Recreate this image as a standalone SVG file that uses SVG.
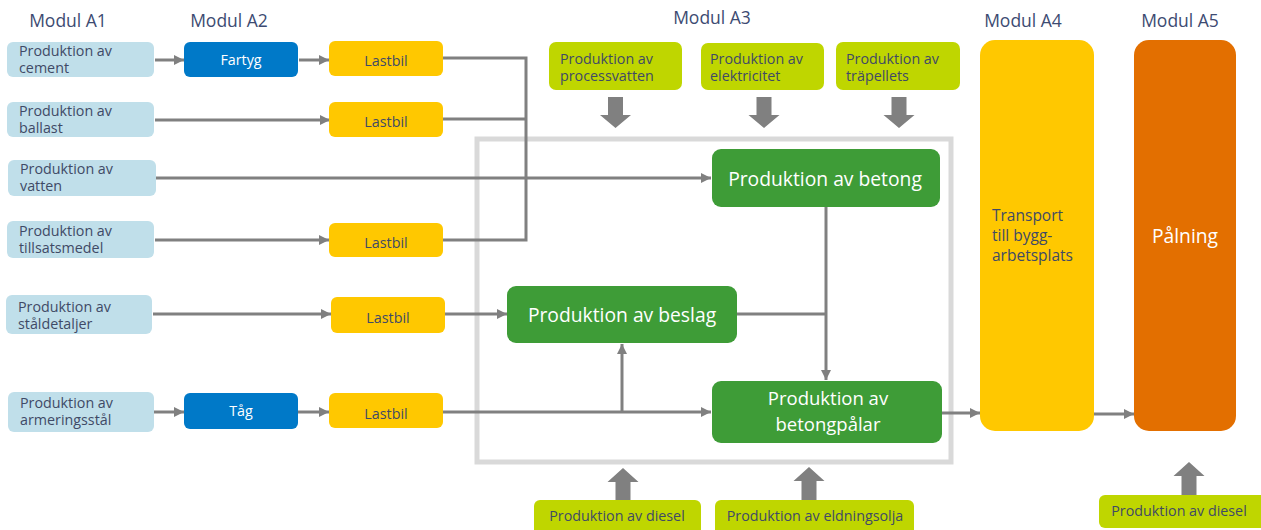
<svg xmlns="http://www.w3.org/2000/svg" width="1261" height="530" viewBox="0 0 1261 530">
<style>
text{font-family:"Open Sans","Noto Sans","Liberation Sans",sans-serif;}
.mod{font-size:17.5px;fill:#3d4b72;text-anchor:middle;}
.a1{fill:#c0dfea;}
.blue{fill:#0079c8;}
.yel{fill:#ffc800;}
.lime{fill:#bfd600;}
.grn{fill:#3e9c37;}
.org{fill:#e36f00;}
.t{font-size:14.3px;fill:#3f4a66;}
.tc{font-size:14.3px;fill:#3f4a66;text-anchor:middle;}
.tw{font-size:14.3px;fill:#ffffff;text-anchor:middle;}
.big{font-size:19.3px;fill:#ffffff;text-anchor:middle;}
.con{fill:none;stroke:#808080;stroke-width:3;}
.fat{fill:#808080;}
.frame{fill:none;stroke:#d9d9d9;stroke-width:5;}
</style>
<defs>
<marker id="ah" viewBox="0 0 10 10" refX="10" refY="5" markerWidth="10" markerHeight="10" markerUnits="userSpaceOnUse" orient="auto">
<path d="M0,0 L10,5 L0,10 z" fill="#808080"/>
</marker>
</defs>
<rect width="1261" height="530" fill="#ffffff"/>

<g id="headers">
<text class="mod" x="68" y="27">Modul A1</text>
<text class="mod" x="229" y="27">Modul A2</text>
<text class="mod" x="712" y="24">Modul A3</text>
<text class="mod" x="1023" y="27">Modul A4</text>
<text class="mod" x="1180" y="27">Modul A5</text>
</g>

<rect class="frame" x="477" y="139" width="474" height="323"/>

<g id="connectors">
<path class="con" d="M155,60 H184" marker-end="url(#ah)"/>
<path class="con" d="M299,60 H329" marker-end="url(#ah)"/>
<path class="con" d="M155,120 H330" marker-end="url(#ah)"/>
<path class="con" d="M156,178 H711" marker-end="url(#ah)"/>
<path class="con" d="M155,240 H329" marker-end="url(#ah)"/>
<path class="con" d="M443,58 H526 V240 H443"/>
<path class="con" d="M443,119 H526"/>
<path class="con" d="M153,314 H331" marker-end="url(#ah)"/>
<path class="con" d="M445,314 H507" marker-end="url(#ah)"/>
<path class="con" d="M154,412 H184" marker-end="url(#ah)"/>
<path class="con" d="M298,412 H329" marker-end="url(#ah)"/>
<path class="con" d="M443,412 H711" marker-end="url(#ah)"/>
<path class="con" d="M622,412 V344" marker-end="url(#ah)"/>
<path class="con" d="M826,207 V380" marker-end="url(#ah)"/>
<path class="con" d="M736,314 H826"/>
<path class="con" d="M942,413 H980" marker-end="url(#ah)"/>
<path class="con" d="M1094,414 H1134" marker-end="url(#ah)"/>
<path class="fat" d="M608,97 H623 V115 H631 L615.5,128 L600,115 H608 z"/>
<path class="fat" d="M756.5,97 H771.5 V115 H779.5 L764,128 L748.5,115 H756.5 z"/>
<path class="fat" d="M891.5,97 H906.5 V115 H914.5 L899,128 L883.5,115 H891.5 z"/>
<path class="fat" d="M615.5,500 H630.5 V482 H638.5 L623,468 L607.5,482 H615.5 z"/>
<path class="fat" d="M801.5,500 H816.5 V481 H824.5 L809,467 L793.5,481 H801.5 z"/>
<path class="fat" d="M1181.5,495 H1196.5 V476 H1204.5 L1189,462 L1173.5,476 H1181.5 z"/>
</g>

<g id="n-cement"><rect class="a1" x="7" y="42" width="147" height="35" rx="6"/><text class="t" x="19" y="56">Produktion av</text><text class="t" x="19" y="73">cement</text></g>
<g id="n-ballast"><rect class="a1" x="7" y="102" width="147" height="35" rx="6"/><text class="t" x="19" y="116">Produktion av</text><text class="t" x="19" y="133">ballast</text></g>
<g id="n-vatten"><rect class="a1" x="8" y="160" width="148" height="36" rx="6"/><text class="t" x="20" y="174">Produktion av</text><text class="t" x="20" y="191">vatten</text></g>
<g id="n-tillsats"><rect class="a1" x="7" y="221" width="147" height="37" rx="6"/><text class="t" x="19" y="236">Produktion av</text><text class="t" x="19" y="253">tillsatsmedel</text></g>
<g id="n-stal"><rect class="a1" x="6" y="295" width="146" height="39" rx="6"/><text class="t" x="18" y="312">Produktion av</text><text class="t" x="18" y="329">ståldetaljer</text></g>
<g id="n-armering"><rect class="a1" x="8" y="392" width="146" height="40" rx="6"/><text class="t" x="20" y="408">Produktion av</text><text class="t" x="20" y="425">armeringsstål</text></g>

<g id="n-fartyg"><rect class="blue" x="184" y="42" width="114" height="35" rx="6"/><text class="tw" x="241" y="65">Fartyg</text></g>
<g id="n-tag"><rect class="blue" x="184" y="393" width="114" height="36" rx="6"/><text class="tw" x="241" y="416">Tåg</text></g>

<g id="n-lastbil1"><rect class="yel" x="329" y="41" width="114" height="35" rx="6"/><text class="tc" x="386" y="66">Lastbil</text></g>
<g id="n-lastbil2"><rect class="yel" x="329" y="102" width="114" height="35" rx="6"/><text class="tc" x="386" y="127">Lastbil</text></g>
<g id="n-lastbil4"><rect class="yel" x="329" y="223" width="114" height="34" rx="6"/><text class="tc" x="386" y="248">Lastbil</text></g>
<g id="n-lastbil5"><rect class="yel" x="331" y="297" width="114" height="36" rx="6"/><text class="tc" x="388" y="323">Lastbil</text></g>
<g id="n-lastbil6"><rect class="yel" x="329" y="393" width="114" height="35" rx="6"/><text class="tc" x="386" y="419">Lastbil</text></g>

<g id="n-processvatten"><rect class="lime" x="549" y="42" width="133" height="48" rx="7"/><text class="t" x="560" y="64">Produktion av</text><text class="t" x="560" y="81">processvatten</text></g>
<g id="n-elektricitet"><rect class="lime" x="701" y="43" width="123" height="47" rx="7"/><text class="t" x="710" y="64">Produktion av</text><text class="t" x="710" y="81">elektricitet</text></g>
<g id="n-trapellets"><rect class="lime" x="836" y="42" width="124" height="48" rx="7"/><text class="t" x="846" y="64">Produktion av</text><text class="t" x="846" y="81">träpellets</text></g>

<g id="n-betong"><rect class="grn" x="712" y="149" width="228" height="58" rx="9"/><text class="big" x="825" y="186">Produktion av betong</text></g>
<g id="n-beslag"><rect class="grn" x="507" y="286" width="230" height="57" rx="9"/><text class="big" x="622" y="322">Produktion av beslag</text></g>
<g id="n-palar"><rect class="grn" x="712" y="381" width="230" height="62" rx="9"/><text class="big" style="font-size:18.5px" x="828" y="405">Produktion av</text><text class="big" style="font-size:18.5px" x="828" y="431">betongpålar</text></g>

<g id="n-diesel1"><rect class="lime" x="534" y="500" width="167" height="36" rx="6"/><text class="tc" x="617" y="521">Produktion av diesel</text></g>
<g id="n-eldningsolja"><rect class="lime" x="715" y="500" width="199" height="36" rx="6"/><text class="tc" x="815" y="521">Produktion av eldningsolja</text></g>

<g id="n-transport"><rect class="yel" x="980" y="40" width="114" height="391" rx="15"/><text style="font-size:15.5px;fill:#3f4a66" x="992" y="221">Transport</text><text style="font-size:15.5px;fill:#3f4a66" x="992" y="241">till bygg-</text><text style="font-size:15.5px;fill:#3f4a66" x="992" y="261">arbetsplats</text></g>
<g id="n-palning"><rect class="org" x="1134" y="40" width="102" height="391" rx="15"/><text class="big" x="1185" y="243">Pålning</text></g>
<g id="n-diesel2"><rect class="lime" x="1099" y="495" width="168" height="33" rx="6"/><text class="tc" x="1179" y="516">Produktion av diesel</text></g>
</svg>
